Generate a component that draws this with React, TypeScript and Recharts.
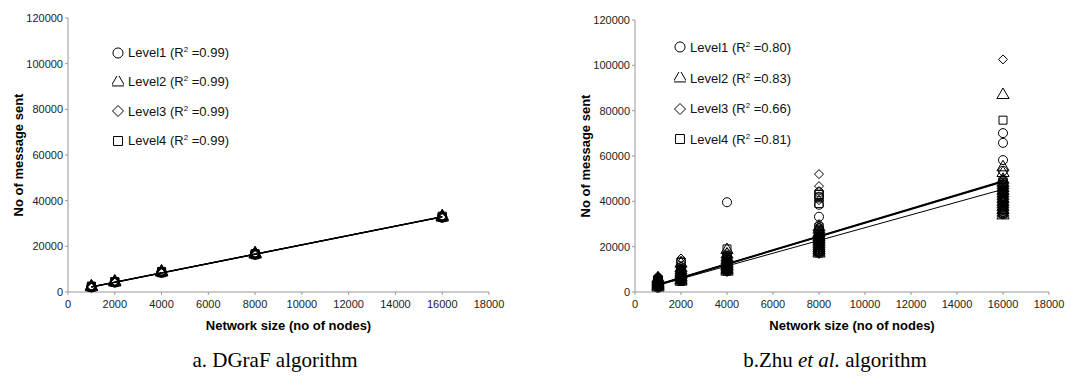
import React from "react";
import {
  ScatterChart,
  Scatter,
  XAxis,
  YAxis,
  ZAxis,
  Legend,
  Symbols,
} from "recharts";

// network sizes used in the experiments
const sizes = [1000, 2000, 4000, 8000, 16000];
const trendX = [1000, 16000];
const xTicks = [0, 2000, 4000, 6000, 8000, 10000, 12000, 14000, 16000, 18000];
const yTicks = [0, 20000, 40000, 60000, 80000, 100000, 120000];
const levelNames = ["Level1", "Level2", "Level3", "Level4"];
const levelShapes = ["circle", "triangle", "diamond", "square"];

// a. DGraF
const dgrafR2 = ["0.99", "0.99", "0.99", "0.99"];
const dgrafLevel1 = [[2000, 2200, 2400], [4100, 4300, 4500], [8400, 8700, 8900], [16300, 16600, 16900], [32500, 32800, 33100]];
const dgrafLevel2 = [[2100, 2300, 2500], [4200, 4400, 4600], [8500, 8800, 9000], [16400, 16700, 17000], [32600, 32900, 33200]];
const dgrafLevel3 = [[1900, 2200, 2500], [4100, 4400, 4700], [8300, 8600, 8900], [16200, 16600, 16900], [32400, 32800, 33100]];
const dgrafLevel4 = [[2100, 2300, 2600], [4200, 4400, 4600], [8400, 8700, 9000], [16300, 16600, 16800], [32600, 32900, 33200]];
const dgrafTrend1 = [2200, 32900];
const dgrafTrend2 = [2250, 32950];
const dgrafTrend3 = [2150, 32850];
const dgrafTrend4 = [2300, 33000];

// b. Zhu et al.
const zhuR2 = ["0.80", "0.83", "0.66", "0.81"];
const zhuLevel1 = [
  [1900, 2400, 2900, 3300, 3700, 4000, 4400, 4700, 5000, 5400, 5800, 6200],
  [4800, 5300, 5800, 6300, 6800, 7300, 7800, 8300, 8900, 9500, 10200, 11000, 13500],
  [9300, 9800, 10300, 10800, 11300, 11800, 12300, 12900, 13500, 14200, 15000, 16000, 39600],
  [17500, 18300, 19100, 19900, 20700, 21500, 22300, 23100, 23900, 24700, 25500, 26500, 27500, 29000, 33200, 38500, 42000, 44000],
  [34300, 35300, 36300, 37300, 38300, 39300, 40300, 41300, 42300, 43300, 44300, 45300, 46300, 47300, 48300, 49500, 53500, 58200, 65800, 70100],
];
const zhuLevel2 = [
  [2000, 2500, 3000, 3500, 4000, 4500, 5000, 5500, 6000],
  [4600, 5200, 5900, 6600, 7300, 8000, 8700, 9500, 10500, 12500],
  [9000, 9600, 10200, 10800, 11400, 12000, 12700, 13400, 14200, 15200, 16500, 18500],
  [17000, 17800, 18600, 19400, 20200, 21000, 21800, 22600, 23400, 24200, 25000, 26000, 27500, 28500],
  [33800, 35000, 36200, 37400, 38600, 39800, 41000, 42200, 43400, 44600, 45800, 47000, 48200, 49500, 52500, 55000, 86900],
];
const zhuLevel3 = [
  [2200, 2700, 3200, 3700, 4200, 4700, 5200, 5700, 6300, 7000],
  [5000, 5600, 6200, 6800, 7400, 8000, 8600, 9300, 10000, 14800],
  [8800, 9400, 10000, 10600, 11200, 11800, 12400, 13100, 13900, 15000, 17500],
  [16800, 17600, 18400, 19200, 20000, 20800, 21600, 22400, 23200, 24000, 24800, 26000, 28500, 30000, 40500, 44500, 46700, 52000],
  [34800, 36000, 37200, 38400, 39600, 40800, 42000, 43200, 44400, 45600, 46800, 48000, 49500, 102600],
];
const zhuLevel4 = [
  [2400, 2900, 3400, 3900, 4400, 4900, 5400],
  [4700, 5300, 6000, 6700, 7400, 8100, 8800, 10000, 13000],
  [9200, 9800, 10400, 11000, 11600, 12200, 12900, 13600, 14500, 15500, 19000],
  [17200, 18000, 18800, 19600, 20400, 21200, 22000, 22800, 23600, 24400, 25500, 27000, 39000, 41500, 43000],
  [34600, 35800, 37000, 38200, 39400, 40600, 41800, 43000, 44200, 45400, 46600, 47500, 75800],
];
const zhuTrend1 = [3200, 48800];
const zhuTrend2 = [3100, 48600];
const zhuTrend3 = [3300, 49000];
const zhuTrend4 = [3000, 45300];

const sans = "'Liberation Sans', Arial, sans-serif";

const toPoints = (values: number[][]) =>
  values.flatMap((vals, i) => vals.map((y) => ({ x: sizes[i], y })));
const toTrend = (ends: number[]) => ends.map((y, i) => ({ x: trendX[i], y }));

const NoShape = () => <g />;

// square diamond (recharts' own diamond is tall and narrow)
const Diamond = ({ cx, cy, r = 5 }: any) => (
  <path
    d={`M${cx},${cy - r}L${cx + r},${cy}L${cx},${cy + r}L${cx - r},${cy}Z`}
    fill="none"
    stroke="#000"
    strokeWidth={1}
  />
);

const YTitle = ({ viewBox, tx }: any) => {
  const cy = viewBox ? viewBox.y + viewBox.height / 2 : 155;
  return (
    <text
      x={tx}
      y={cy}
      transform={`rotate(-90, ${tx}, ${cy})`}
      textAnchor="middle"
      dominantBaseline="central"
      fontFamily={sans}
      fontWeight="bold"
      fontSize={13}
      fill="#000"
    >
      No of message sent
    </text>
  );
};

const XTitle = ({ viewBox, ty, dx }: any) => {
  const cx = viewBox ? viewBox.x + viewBox.width / 2 + dx : 280;
  return (
    <text
      x={cx}
      y={ty}
      textAnchor="middle"
      dominantBaseline="central"
      fontFamily={sans}
      fontWeight="bold"
      fontSize={13}
      fill="#000"
    >
      Network size (no of nodes)
    </text>
  );
};

const makeLegend = (r2: string[], rowH: number) => () => (
  <div style={{ fontFamily: sans, fontSize: 13, color: "#111" }}>
    {levelNames.map((name, i) => (
      <div key={name} style={{ display: "flex", alignItems: "center", height: rowH }}>
        <svg width={12} height={12} style={{ marginRight: 4 }}>
          {levelShapes[i] === "diamond" ? (
            <Diamond cx={6} cy={6} r={5.5} />
          ) : (
            <Symbols cx={6} cy={6} type={levelShapes[i] as any} size={80} fill="none" stroke="#000" />
          )}
        </svg>
        <span>
          {name} (R<sup style={{ fontSize: 8, verticalAlign: 5 }}>2</sup> =
          {r2[i]})
        </span>
      </div>
    ))}
  </div>
);

type PanelProps = {
  left: number;
  width: number;
  levels: number[][][];
  trends: number[][];
  trendWidths: number[];
  r2: string[];
  yAxisWidth: number;
  marginTop: number;
  marginRight: number;
  yTitleX: number;
  legendPos: { left: number; top: number; rowH: number };
};

const Panel: React.FC<PanelProps> = (p) => (
  <div style={{ position: "absolute", left: p.left, top: 0 }}>
    <ScatterChart
      width={p.width}
      height={340}
      margin={{ top: p.marginTop, right: p.marginRight, bottom: 0, left: 0 }}
    >
      <XAxis
        type="number"
        dataKey="x"
        domain={[0, 18000]}
        ticks={xTicks}
        interval={0}
        height={48}
        stroke="#999"
        tickSize={3}
        tickMargin={5}
        tick={{ fill: "#222", fontSize: 11, fontFamily: sans }}
        label={<XTitle ty={325} dx={10} />}
      />
      <YAxis
        type="number"
        dataKey="y"
        domain={[0, 120000]}
        ticks={yTicks}
        interval={0}
        width={p.yAxisWidth}
        stroke="#999"
        tickSize={3}
        tickMargin={2}
        tick={{ fill: "#222", fontSize: 11, fontFamily: sans }}
        label={<YTitle tx={p.yTitleX} />}
      />
      <ZAxis range={[50, 50]} />
      <Legend
        layout="vertical"
        align="center"
        verticalAlign="middle"
        content={makeLegend(p.r2, p.legendPos.rowH)}
        wrapperStyle={{ left: p.legendPos.left, top: p.legendPos.top, width: 200, height: 4 * p.legendPos.rowH }}
      />
      {p.levels.map((lv, i) => (
        <Scatter
          key={levelNames[i]}
          name={levelNames[i]}
          data={toPoints(lv)}
          shape={levelShapes[i] === "diamond" ? (props: any) => <Diamond cx={props.cx} cy={props.cy} r={4.5} /> : (levelShapes[i] as any)}
          fill="none"
          stroke="#000"
          strokeWidth={1}
          isAnimationActive={false}
        />
      ))}
      {p.trends.map((t, i) => (
        <Scatter
          key={"trend" + i}
          data={toTrend(t)}
          line={{ stroke: "#000", strokeWidth: p.trendWidths[i] }}
          shape={NoShape}
          legendType="none"
          isAnimationActive={false}
        />
      ))}
    </ScatterChart>
  </div>
);

const captionStyle: React.CSSProperties = {
  position: "absolute",
  top: 347,
  fontFamily: "'Liberation Serif', 'Times New Roman', serif",
  fontSize: 21,
  lineHeight: "26px",
  textAlign: "center",
  color: "#000",
};

export default function App() {
  return (
    <div style={{ position: "absolute", left: 0, top: 0, width: 1091, height: 384, background: "#fff" }}>
      <Panel
        left={0}
        width={545}
        levels={[dgrafLevel1, dgrafLevel2, dgrafLevel3, dgrafLevel4]}
        trends={[dgrafTrend1, dgrafTrend2, dgrafTrend3, dgrafTrend4]}
        trendWidths={[1.2, 1.2, 1.2, 1.2]}
        r2={dgrafR2}
        yAxisWidth={68}
        marginTop={18}
        marginRight={56}
        yTitleX={18}
        legendPos={{ left: 112, top: 38, rowH: 29.3 }}
      />
      <Panel
        left={545}
        width={546}
        levels={[zhuLevel1, zhuLevel2, zhuLevel3, zhuLevel4]}
        trends={[zhuTrend1, zhuTrend2, zhuTrend3, zhuTrend4]}
        trendWidths={[1.4, 1.4, 1.4, 1]}
        r2={zhuR2}
        yAxisWidth={90}
        marginTop={20}
        marginRight={42}
        yTitleX={40}
        legendPos={{ left: 129, top: 32, rowH: 30.7 }}
      />
      <div style={{ ...captionStyle, left: 175, width: 200 }}>a. DGraF algorithm</div>
      <div style={{ ...captionStyle, left: 715, width: 240 }}>
        b.Zhu <i>et al.</i> algorithm
      </div>
    </div>
  );
}
